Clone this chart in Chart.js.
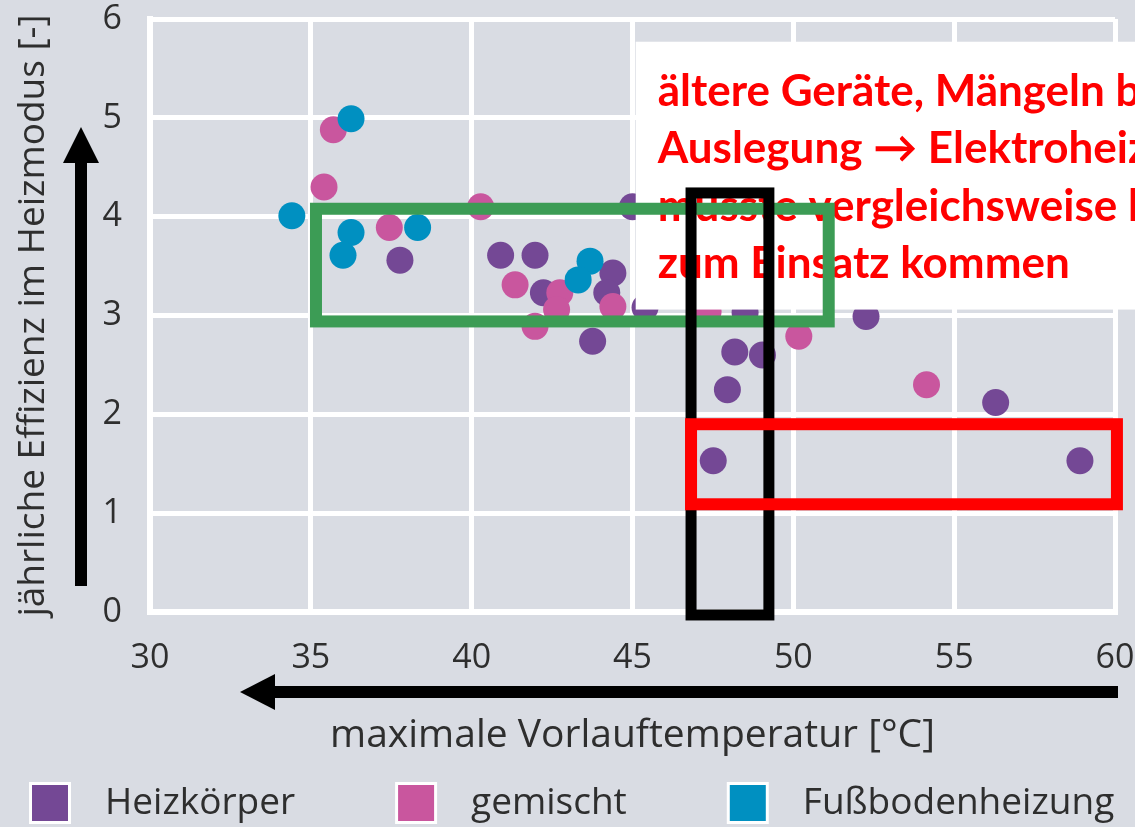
<!DOCTYPE html>
<html>
<head>
<meta charset="utf-8">
<script src="https://cdn.jsdelivr.net/npm/chart.js@4.4.1/dist/chart.umd.min.js"></script>
<style>
  html, body { margin: 0; padding: 0; background: #d9dce3; }
  #wrap { width: 1135px; height: 827px; }
</style>
</head>
<body>
<div id="wrap"><canvas id="c" width="1135" height="827"></canvas></div>
<script>
// Axis ticks
const xTicks = [30, 35, 40, 45, 50, 55, 60];
const yTicks = [0, 1, 2, 3, 4, 5, 6];

// Series names
const seriesNames = ['Heizkörper', 'gemischt', 'Fußbodenheizung'];

// Heizkörper: max. Vorlauftemperatur [°C] / jährliche Effizienz [-]
const heizkoerperX = [37.77, 40.90, 41.97, 42.23, 44.39, 44.20, 43.76, 45.39, 45.00, 48.50, 52.26, 48.18, 49.04, 47.95, 47.51, 56.29, 58.91];
const heizkoerperY = [3.56, 3.61, 3.61, 3.23, 3.43, 3.23, 2.74, 3.08, 4.10, 3.03, 2.99, 2.63, 2.60, 2.25, 1.53, 2.12, 1.53];

// gemischt
const gemischtX = [35.70, 35.41, 37.44, 40.28, 41.35, 42.74, 42.64, 41.97, 44.39, 47.35, 50.17, 54.14];
const gemischtY = [4.88, 4.30, 3.89, 4.10, 3.31, 3.23, 3.06, 2.89, 3.09, 3.04, 2.79, 2.30];

// Fußbodenheizung
const fussbodenX = [34.41, 36.25, 36.25, 36.00, 38.32, 43.68, 43.31];
const fussbodenY = [4.01, 4.99, 3.84, 3.61, 3.89, 3.55, 3.36];

// Annotation boxes in axis units [x1, x2, y1, y2]
const greenBox = [35.16, 51.10, 2.94, 4.08];
const blackBox = [46.82, 49.24, -0.03, 4.24];
const redBox = [46.82, 60.06, 1.09, 1.90];
const noteBox = [45.10, 3.06, 5.77]; // left, bottom, top
const noteLines = [
  'ältere Geräte, Mängeln bei',
  'Auslegung \u2192 Elektroheizstab',
  'musste vergleichsweise häufig',
  'zum Einsatz kommen'
];

const COLORS = ['#744895', '#c9569e', '#0090c1'];
const FONT = "'Open Sans', 'Noto Sans', sans-serif";
const TEXT = '#2e2e2e';

const toPoints = (xs, ys) => xs.map((v, i) => ({ x: v, y: ys[i] }));

// keep the plot area edges fixed, no extra room for overhanging tick labels
const noOverhang = s => {
  s.paddingTop = 0; s.paddingBottom = 0; s.paddingLeft = 0; s.paddingRight = 0;
};

const overlay = {
  id: 'overlay',
  afterDatasetsDraw(chart) {
    const { ctx, scales: { x, y }, width } = chart;
    ctx.save();

    // note box with red text
    const nl = x.getPixelForValue(noteBox[0]);
    const nt = y.getPixelForValue(noteBox[2]);
    const nb = y.getPixelForValue(noteBox[1]);
    ctx.fillStyle = '#ffffff';
    ctx.fillRect(nl, nt, width - nl, nb - nt);
    ctx.fillStyle = '#ff0000';
    ctx.font = "bold 44px Lato, 'Open Sans', sans-serif";
    ctx.textBaseline = 'alphabetic';
    ctx.textAlign = 'left';
    noteLines.forEach((line, i) => {
      ctx.fillText(line, nl + 22, nt + 64 + i * 57.5);
    });

    const rect = (b, color, lw) => {
      const l = x.getPixelForValue(b[0]), r = x.getPixelForValue(b[1]);
      const t = y.getPixelForValue(b[3]), bt = y.getPixelForValue(b[2]);
      ctx.strokeStyle = color;
      ctx.lineWidth = lw;
      ctx.lineJoin = 'miter';
      ctx.strokeRect(l, t, r - l, bt - t);
    };
    rect(greenBox, '#3c9c55', 12);
    rect(blackBox, '#000000', 11);
    rect(redBox, '#ff0000', 12);

    // direction arrows
    ctx.fillStyle = '#000000';
    // vertical arrow (up)
    ctx.fillRect(75, 160, 12, 426);
    ctx.beginPath();
    ctx.moveTo(81, 127);
    ctx.lineTo(99, 163);
    ctx.lineTo(63, 163);
    ctx.closePath();
    ctx.fill();
    // horizontal arrow (left)
    ctx.fillRect(273, 686, 845, 12);
    ctx.beginPath();
    ctx.moveTo(240, 692);
    ctx.lineTo(275, 674);
    ctx.lineTo(275, 710);
    ctx.closePath();
    ctx.fill();

    ctx.restore();
  },
  afterDraw(chart) {
    // legend row
    const { ctx } = chart;
    ctx.save();
    ctx.font = `37px ${FONT}`;
    ctx.textBaseline = 'middle';
    ctx.textAlign = 'left';
    let cx = 29;
    const cy = 803;
    seriesNames.forEach((name, i) => {
      ctx.fillStyle = '#ffffff';
      ctx.fillRect(cx, cy - 21, 42, 42);
      ctx.fillStyle = COLORS[i];
      ctx.fillRect(cx + 3, cy - 18, 36, 36);
      ctx.fillStyle = TEXT;
      const tx = cx + 42 + 34;
      ctx.fillText(name, tx, cy);
      cx = tx + ctx.measureText(name).width + 100;
    });
    ctx.restore();
  }
};

new Chart(document.getElementById('c'), {
  type: 'scatter',
  data: {
    datasets: [
      { label: seriesNames[0], data: toPoints(heizkoerperX, heizkoerperY), backgroundColor: COLORS[0], order: 3 },
      { label: seriesNames[1], data: toPoints(gemischtX, gemischtY), backgroundColor: COLORS[1], order: 2 },
      { label: seriesNames[2], data: toPoints(fussbodenX, fussbodenY), backgroundColor: COLORS[2], order: 1 }
    ]
  },
  options: {
    responsive: false,
    animation: false,
    layout: { padding: { left: 0, right: 20, top: 19, bottom: 0 } },
    elements: { point: { radius: 13.5, borderWidth: 0, hoverRadius: 13.5 } },
    plugins: { legend: { display: false }, tooltip: { enabled: false } },
    scales: {
      x: {
        type: 'linear', min: 30, max: 60,
        afterBuildTicks: s => { s.ticks = xTicks.map(v => ({ value: v })); },
        afterFit: s => { s.height = 215; noOverhang(s); },
        grid: { color: '#ffffff', lineWidth: 5, drawTicks: false },
        border: { color: '#ffffff', width: 6 },
        ticks: { padding: 26, color: TEXT, font: { family: FONT, size: 34 }, maxRotation: 0 },
        title: {
          display: true, text: 'maximale Vorlauftemperatur [°C]', color: TEXT,
          font: { family: FONT, size: 39 }, padding: { top: 0, bottom: 68 }
        }
      },
      y: {
        type: 'linear', min: 0, max: 6,
        afterBuildTicks: s => { s.ticks = yTicks.map(v => ({ value: v })); },
        afterFit: s => { s.width = 150; noOverhang(s); },
        grid: { color: '#ffffff', lineWidth: 5, drawTicks: false },
        border: { color: '#ffffff', width: 6 },
        ticks: { padding: 28, color: TEXT, font: { family: FONT, size: 34 } },
        title: {
          display: true, text: 'jährliche Effizienz im Heizmodus [-]', color: TEXT,
          font: { family: FONT, size: 37 }, padding: { top: 11, bottom: 0 }
        }
      }
    }
  },
  plugins: [overlay]
});
</script>
</body>
</html>
